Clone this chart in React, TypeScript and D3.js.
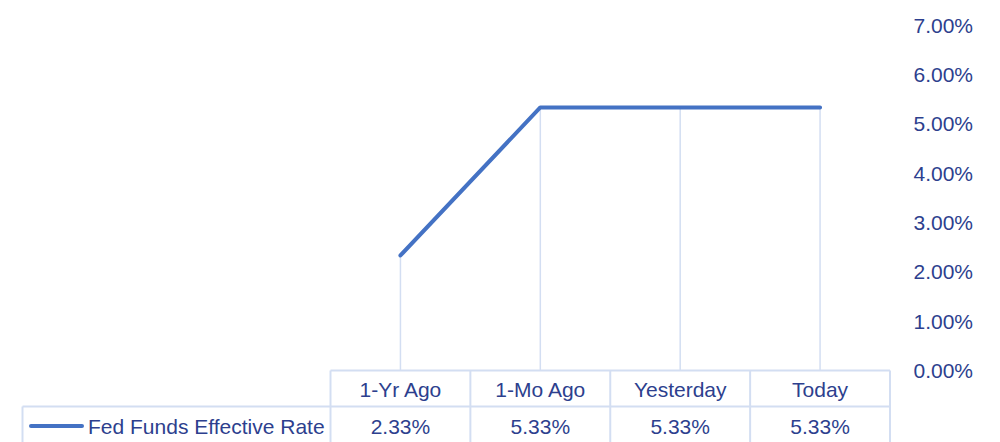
import React from "react";
import * as d3 from "d3";

const categories = ["1-Yr Ago", "1-Mo Ago", "Yesterday", "Today"];
const seriesName = "Fed Funds Effective Rate";
const values = [2.33, 5.33, 5.33, 5.33];
const yTicks = [0, 1, 2, 3, 4, 5, 6, 7];

const W = 1000;
const H = 442;
const textColor = "#2d3f8e";
const gridColor = "#d3def2";
const lineColor = "#4472c4";
const font = "'Liberation Sans', Arial, sans-serif";

export default function App() {
  const x = d3.scaleBand<string>().domain(categories).range([330.5, 890]).padding(0);
  const y = d3.scaleLinear().domain([0, 7]).range([370.5, 25]);
  const cx = (c: string) => (x(c) as number) + x.bandwidth() / 2;
  const line = d3
    .line<number>()
    .x((_, i) => cx(categories[i]))
    .y((d) => y(d));
  const tableTop = 370.5;
  const rowMid = 406.5;
  const legendLeft = 22.5;
  const fmt = (v: number) => v.toFixed(2) + "%";

  return (
    <svg
      width={W}
      height={H}
      style={{ position: "absolute", left: 0, top: 0, background: "#fff" }}
      fontFamily={font}
    >
      {/* drop lines */}
      {values.map((v, i) => (
        <line
          key={"drop" + i}
          x1={cx(categories[i])}
          x2={cx(categories[i])}
          y1={y(v)}
          y2={tableTop}
          stroke={gridColor}
          strokeWidth={1.5}
        />
      ))}
      {/* series line */}
      <path d={line(values) as string} fill="none" stroke={lineColor} strokeWidth={4} strokeLinecap="round" strokeLinejoin="round" />
      {/* y axis labels on the right */}
      {yTicks.map((t) => (
        <text
          key={"yt" + t}
          x={973}
          y={y(t)}
          textAnchor="end"
          dominantBaseline="central"
          fontSize={21}
          fill={textColor}
        >
          {fmt(t)}
        </text>
      ))}
      {/* data table */}
      <g stroke={gridColor} strokeWidth={2} fill="none">
        <line x1={330.5} x2={890} y1={tableTop} y2={tableTop} />
        <line x1={legendLeft} x2={890} y1={rowMid} y2={rowMid} />
        <line x1={legendLeft} x2={legendLeft} y1={rowMid} y2={H} />
        {categories.map((c) => (
          <line key={"vb" + c} x1={x(c) as number} x2={x(c) as number} y1={tableTop} y2={H} />
        ))}
        <line x1={890} x2={890} y1={tableTop} y2={H} />
      </g>
      {categories.map((c) => (
        <text
          key={"cat" + c}
          x={cx(c)}
          y={389}
          textAnchor="middle"
          dominantBaseline="central"
          fontSize={21}
          fill={textColor}
        >
          {c}
        </text>
      ))}
      {values.map((v, i) => (
        <text
          key={"val" + i}
          x={cx(categories[i])}
          y={426}
          textAnchor="middle"
          dominantBaseline="central"
          fontSize={21}
          fill={textColor}
        >
          {fmt(v)}
        </text>
      ))}
      <line x1={31} x2={82} y1={426} y2={426} stroke={lineColor} strokeWidth={4} strokeLinecap="round" />
      <text x={88} y={426} dominantBaseline="central" fontSize={21} fill={textColor}>
        {seriesName}
      </text>
    </svg>
  );
}
